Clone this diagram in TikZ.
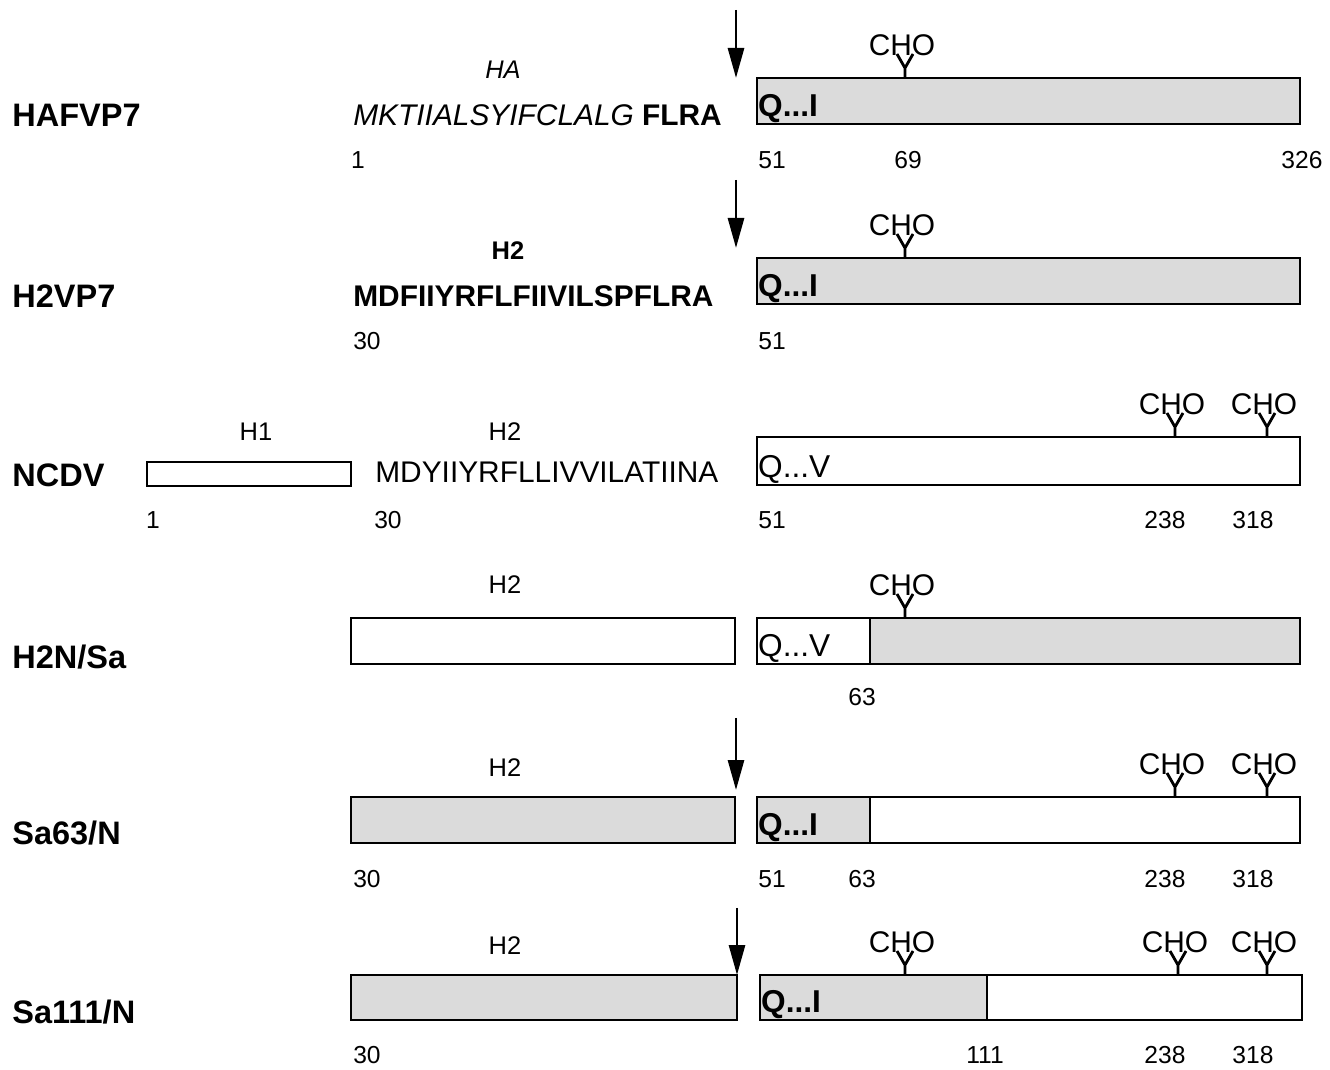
\documentclass[tikz,border=0pt]{standalone}
\usepackage{fontspec}
\setmainfont{Liberation Sans}
\usetikzlibrary{arrows.meta}

% glycosylation mark: name, x, top of bar
\newcommand{\glyc}[3]{%
  \draw[line width=1.6pt] (#2,#3) -- (#2,#3-10) -- (#2-8,#3-24) (#2,#3-10) -- (#2+8,#3-24);
  \node[cho] (#1) at (#2-3,#3-33) {CHO};}

\begin{document}
\begin{tikzpicture}[x=0.02cm, y=-0.02cm,
    bar/.style={draw, line width=1.6pt},
    dots/.style={fill=black!14},
    strain/.style={anchor=west, inner sep=0pt, font=\bfseries\fontsize{18.5}{22}\selectfont},
    seq/.style={anchor=west, inner sep=0pt, font=\fontsize{17}{20}\selectfont},
    hlab/.style={inner sep=0pt, font=\fontsize{14.5}{17}\selectfont},
    num/.style={inner sep=0pt, font=\fontsize{14}{16}\selectfont},
    cho/.style={inner sep=0pt, font=\fontsize{17}{19}\selectfont},
    firstres/.style={anchor=south west, inner sep=0.5pt, font=\fontsize{18}{20}\selectfont},
    cut/.style={line width=1.6pt, -{Triangle[length=0.6cm, width=0.32cm]}}]
  \useasboundingbox (0,0) rectangle (1330,1070);

  % HAFVP7
  \node[strain] (hafvp) at (12,115) {HAFVP7};
  \node[hlab] (ha) at (503,70) {\itshape HA};
  \node[seq] (haseq) at (353,115) {\itshape MKTIIALSYIFCLALG \upshape\bfseries FLRA};
  \draw[bar, dots] (757,78) rectangle (1300,124);
  \node[firstres] (q1) at (757,124) {\bfseries Q...I};
  \glyc{cho1}{905}{78}
  \coordinate (a1) at (736,10);
  \coordinate (b1) at (736,78);
  \draw[cut] (a1) -- (b1);
  \node[num] (n11) at (358,160) {1};
  \node[num] (n12) at (772,160) {51};
  \node[num] (n13) at (908,160) {69};
  \node[num] (n14) at (1302,160) {326};

  % H2VP7
  \node[strain] (h2vp) at (12,296) {H2VP7};
  \node[hlab] (h2a) at (508,251) {\bfseries H2};
  \node[seq] (h2seq) at (353,296) {\bfseries MDFIIYRFLFIIVILSPFLRA};
  \draw[bar, dots] (757,258) rectangle (1300,304);
  \node[firstres] (q2) at (757,304) {\bfseries Q...I};
  \glyc{cho2}{905}{258}
  \coordinate (a2) at (736,180);
  \coordinate (b2) at (736,248);
  \draw[cut] (a2) -- (b2);
  \node[num] (n21) at (367,341) {30};
  \node[num] (n22) at (772,341) {51};

  % NCDV
  \node[strain] (ncdv) at (12,475) {NCDV};
  \node[hlab] (h1b) at (256,432) {H1};
  \node[hlab] (h2b) at (505,432) {H2};
  \draw[bar] (147,462) rectangle (351,486);
  \node[seq] (nseq) at (375,472) {MDYIIYRFLLIVVILATIINA};
  \draw[bar] (757,437) rectangle (1300,485);
  \node[firstres] (q3) at (757,485) {Q...V};
  \glyc{cho3}{1175}{437}
  \glyc{cho4}{1267}{437}
  \node[num] (n31) at (153,520) {1};
  \node[num] (n32) at (388,520) {30};
  \node[num] (n33) at (772,520) {51};
  \node[num] (n34) at (1165,520) {238};
  \node[num] (n35) at (1253,520) {318};

  % H2N/Sa
  \node[strain] (h2nsa) at (12,657) {H2N/Sa};
  \node[hlab] (h2c) at (505,585) {H2};
  \draw[bar] (351,618) rectangle (735,664);
  \fill[dots] (870,618) rectangle (1300,664);
  \draw[bar] (757,618) rectangle (1300,664) (870,618) -- (870,664);
  \node[firstres] (q4) at (757,664) {Q...V};
  \glyc{cho5}{905}{618}
  \node[num] (n41) at (862,697) {63};

  % Sa63/N
  \node[strain] (sa63) at (12,833) {Sa63/N};
  \node[hlab] (h2d) at (505,768) {H2};
  \draw[bar, dots] (351,797) rectangle (735,843);
  \fill[dots] (757,797) rectangle (870,843);
  \draw[bar] (757,797) rectangle (1300,843) (870,797) -- (870,843);
  \node[firstres] (q5) at (757,843) {\bfseries Q...I};
  \glyc{cho6}{1175}{797}
  \glyc{cho7}{1267}{797}
  \coordinate (a5) at (736,718);
  \coordinate (b5) at (736,790);
  \draw[cut] (a5) -- (b5);
  \node[num] (n51) at (367,879) {30};
  \node[num] (n52) at (772,879) {51};
  \node[num] (n53) at (862,879) {63};
  \node[num] (n54) at (1165,879) {238};
  \node[num] (n55) at (1253,879) {318};

  % Sa111/N
  \node[strain] (sa111) at (12,1012) {Sa111/N};
  \node[hlab] (h2e) at (505,946) {H2};
  \draw[bar, dots] (351,975) rectangle (737,1020);
  \fill[dots] (760,975) rectangle (987,1020);
  \draw[bar] (760,975) rectangle (1302,1020) (987,975) -- (987,1020);
  \node[firstres] (q6) at (760,1020) {\bfseries Q...I};
  \glyc{cho8}{905}{975}
  \glyc{cho9}{1178}{975}
  \glyc{cho10}{1267}{975}
  \coordinate (a6) at (737,908);
  \coordinate (b6) at (737,975);
  \draw[cut] (a6) -- (b6);
  \node[num] (n61) at (367,1055) {30};
  \node[num] (n62) at (985,1055) {111};
  \node[num] (n63) at (1165,1055) {238};
  \node[num] (n64) at (1253,1055) {318};
\end{tikzpicture}
\end{document}
